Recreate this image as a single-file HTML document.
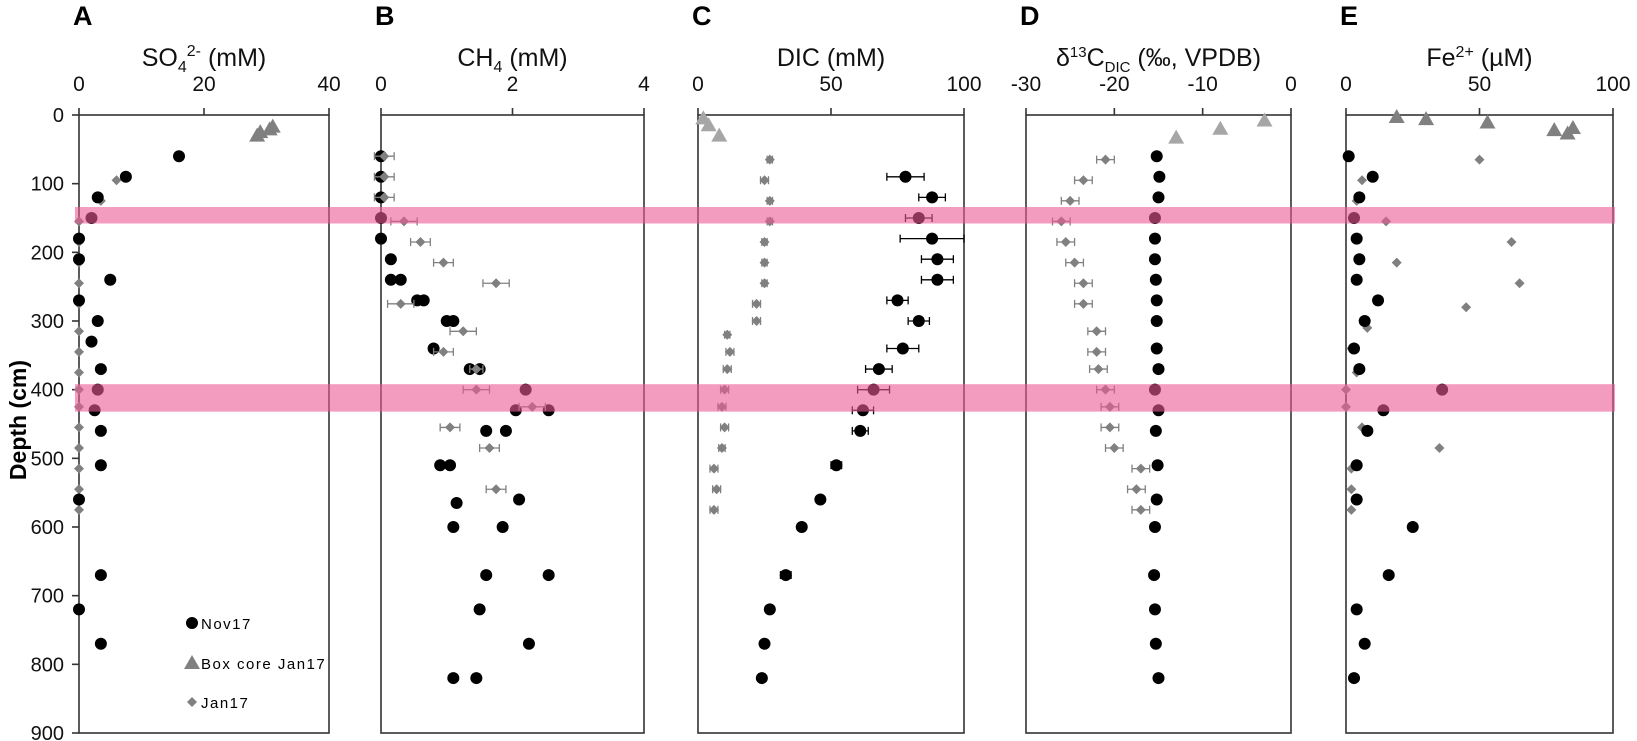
<!DOCTYPE html>
<html><head><meta charset="utf-8"><style>
body{margin:0;background:#fff}
svg{display:block;font-family:"Liberation Sans",sans-serif}
</style></head><body>
<svg id="s" width="1637" height="741" xmlns="http://www.w3.org/2000/svg"></svg>
<script>
const S=document.getElementById('s');
let h='';
const Y0=115,K=(733-115)/900;
const yd=d=>Y0+d*K;
const P=[
 {l:79,r:329,min:0,max:40,ticks:[0,20,40],L:'A'},
 {l:381,r:644,min:0,max:4,ticks:[0,2,4],L:'B'},
 {l:698,r:964,min:0,max:100,ticks:[0,50,100],L:'C'},
 {l:1026,r:1291,min:-30,max:0,ticks:[-30,-20,-10,0],L:'D'},
 {l:1346,r:1613,min:0,max:100,ticks:[0,50,100],L:'E'}];
const X=(p,v)=>p.l+(v-p.min)/(p.max-p.min)*(p.r-p.l);
const titles=['SO<tspan dy="6" font-size="16">4</tspan><tspan dy="-16" font-size="16">2-</tspan><tspan dy="10"> (mM)</tspan>',
'CH<tspan dy="6" font-size="16">4</tspan><tspan dy="-6"> (mM)</tspan>',
'DIC (mM)',
'δ<tspan dy="-9" font-size="15">13</tspan><tspan dy="9">C</tspan><tspan dy="6" font-size="15">DIC</tspan><tspan dy="-6"> (‰, VPDB)</tspan>',
'Fe<tspan dy="-9" font-size="16">2+</tspan><tspan dy="9"> (µM)</tspan>'];
P.forEach((p,i)=>{
 h+=`<rect x="${p.l}" y="${Y0}" width="${p.r-p.l}" height="${733-Y0}" fill="none" stroke="#333" stroke-width="1.6"/>`;
 p.ticks.forEach(t=>{const x=X(p,t);h+=`<line x1="${x}" y1="${Y0-7}" x2="${x}" y2="${Y0}" stroke="#333" stroke-width="1.6"/><text x="${x}" y="91" font-size="21" text-anchor="middle" fill="#111">${t}</text>`;});
 h+=`<text x="${p.l-6}" y="25" font-size="27" font-weight="bold">${p.L}</text>`;
 h+=`<text x="${(p.l+p.r)/2}" y="66" font-size="25" text-anchor="middle" fill="#111">${titles[i]}</text>`;
});
for(let d=0;d<=900;d+=100){const y=yd(d);h+=`<line x1="72" y1="${y}" x2="79" y2="${y}" stroke="#333" stroke-width="1.6"/><text x="64" y="${y+7}" font-size="20" text-anchor="end" fill="#111">${d}</text>`;}
h+=`<text transform="translate(26,420) rotate(-90)" font-size="23" font-weight="bold" text-anchor="middle">Depth (cm)</text>`;
const C=(x,y,c='#000',r=6)=>`<circle cx="${x}" cy="${y}" r="${r}" fill="${c}"/>`;
const T=(x,y,c)=>`<path d="M${x} ${y-8}L${x+8} ${y+6}L${x-8} ${y+6}Z" fill="${c}"/>`;
const D=(x,y,c='#808080')=>`<path d="M${x} ${y-5}L${x+5} ${y}L${x} ${y+5}L${x-5} ${y}Z" fill="${c}"/>`;
const E=(x1,x2,y,c)=>`<line x1="${x1}" y1="${y}" x2="${x2}" y2="${y}" stroke="${c}" stroke-width="1.3"/><line x1="${x1}" y1="${y-4}" x2="${x1}" y2="${y+4}" stroke="${c}" stroke-width="1.3"/><line x1="${x2}" y1="${y-4}" x2="${x2}" y2="${y+4}" stroke="${c}" stroke-width="1.3"/>`;
function series(pi,data,kind,col){const p=P[pi];data.forEach(a=>{const x=X(p,a[0]),y=yd(a[1]);
 if(a[2]){h+=E(X(p,a[0]-a[2]),X(p,a[0]+a[2]),y,col);}
 h+=kind=='c'?C(x,y,col):kind=='t'?T(x,y,col):D(x,y,col);});}
series(0,[[6,95],[3.5,125],[0,155],[0,185],[0,215],[0,245],[0,275],[0,315],[0,345],[0,375],[0,400],[0,425],[0,455],[0,485],[0,515],[0,545],[0,575]],'d','#808080');
series(0,[[16,60],[7.5,90],[3,120],[2,150],[0,180],[0,210],[5,240],[0,270],[3,300],[2,330],[3.5,370],[3,400],[2.5,430],[3.5,460],[3.5,510],[0,560],[3.5,670],[0,720],[3.5,770]],'c','#000');
series(0,[[28.5,30],[29,25],[31,17],[30.5,21]],'t','#808080');
series(1,[[0,60],[0,90],[0,120],[0,150],[0,180],[0.15,210],[0.15,240],[0.3,240],[0.55,270],[0.65,270],[1.0,300],[1.1,300],[0.8,340],[1.35,370],[1.5,370],[2.2,400],[2.05,430],[2.55,430],[1.6,460],[1.9,460],[0.9,510],[1.05,510],[2.1,560],[1.15,565],[1.85,600],[1.1,600],[1.6,670],[2.55,670],[1.5,720],[2.25,770],[1.1,820],[1.45,820]],'c','#000');
series(1,[[0.05,60,0.15],[0.05,90,0.15],[0.05,120,0.15],[0.35,155,0.2],[0.6,185,0.15],[0.95,215,0.15],[1.75,245,0.2],[0.3,275,0.2],[1.25,315,0.2],[0.95,345,0.15],[1.45,370,0.1],[1.45,400,0.2],[2.3,425,0.2],[1.05,455,0.15],[1.65,485,0.15],[1.75,545,0.15]],'d','#808080');
series(2,[[27,65,1],[25,95,1.5],[27,125,1],[27,155,1],[25,185,1],[25,215,1],[25,245,1],[22,275,1.5],[22,300,1.5],[11,320,1],[12,345,1.5],[11,370,1.5],[10,400,1.5],[9,425,1.5],[10,455,1.5],[9,485,1.2],[6,515,1.5],[7,545,1.5],[6,575,1.5]],'d','#808080');
series(2,[[78,90,7],[88,120,5],[83,150,5],[88,180,12],[90,210,6],[90,240,6],[75,270,4],[83,300,4],[77,340,6],[68,370,5],[66,400,6],[62,430,4],[61,460,3],[52,510,2],[46,560,1],[39,600],[33,670,2],[27,720],[25,770],[24,820,1]],'c','#000');
series(2,[[2,5],[4,15],[8,30]],'t','#a6a6a6');
series(3,[[-21,65,1],[-23.5,95,1],[-25,125,1],[-26,155,1],[-25.5,185,1],[-24.5,215,1],[-23.5,245,1],[-23.5,275,1],[-22,315,1],[-22,345,1],[-21.8,370,1],[-21,400,1],[-20.5,425,1],[-20.5,455,1],[-20,485,1],[-17,515,1],[-17.5,545,1],[-17,575,1]],'d','#808080');
series(3,[[-15.2,60],[-14.9,90],[-15,120],[-15.4,150],[-15.4,180],[-15.4,210],[-15.3,240],[-15.2,270],[-15.2,300],[-15.2,340],[-15,370],[-15.4,400],[-15,430],[-15.3,460],[-15.1,510],[-15.2,560],[-15.4,600],[-15.5,670],[-15.4,720],[-15.3,770],[-15,820]],'c','#000');
series(3,[[-3,8],[-8,20],[-13,33]],'t','#a6a6a6');
series(4,[[50,65],[6,95],[4,125],[15,155],[62,185],[19,215],[65,245],[45,280],[8,310],[2,340],[4,375],[0,400],[0,425],[6,455],[35,485],[2,515],[2,545],[2,575]],'d','#808080');
series(4,[[1,60],[10,90],[5,120],[3,150],[4,180],[5,210],[4,240],[12,270],[7,300],[3,340],[5,370],[36,400],[14,430],[8,460],[4,510],[4,560],[25,600],[16,670],[4,720],[7,770],[3,820]],'c','#000');
series(4,[[19,3],[30,6],[53,11],[78,22],[83,27],[85,19]],'t','#808080');
h+=`<rect x="75" y="${yd(134)}" width="1540" height="${yd(158)-yd(134)}" fill="rgb(236,90,150)" opacity="0.6"/>`;
h+=`<rect x="75" y="${yd(392)}" width="1540" height="${yd(432)-yd(392)}" fill="rgb(236,90,150)" opacity="0.6"/>`;
h+=C(192,623,'#000',6)+`<text x="201" y="629" font-size="15" letter-spacing="1.5">Nov17</text>`;
h+=T(192,663,'#808080')+`<text x="201" y="669" font-size="15" letter-spacing="1.5">Box core Jan17</text>`;
h+=D(192,702,'#808080')+`<text x="201" y="708" font-size="15" letter-spacing="1.5">Jan17</text>`;
S.innerHTML=h;
</script>
</body></html>
